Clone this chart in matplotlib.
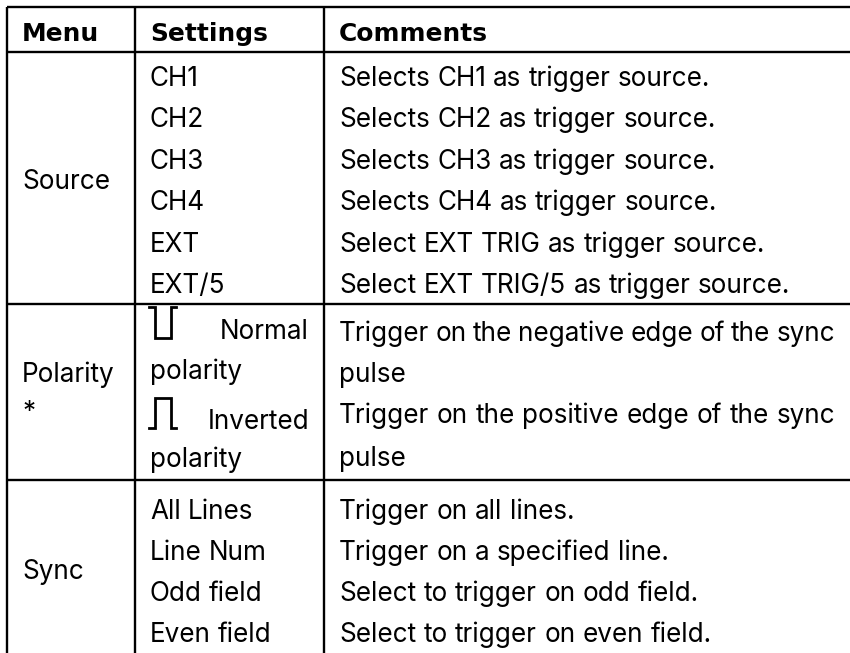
import matplotlib.pyplot as plt

plt.rcParams['font.family'] = ['Inter', 'DejaVu Sans']

headers = ['Menu', 'Settings', 'Comments']
menus = ['Source', 'Polarity', '*', 'Sync']
source_settings = ['CH1', 'CH2', 'CH3', 'CH4', 'EXT', 'EXT/5']
source_comments = ['Selects CH1 as trigger source.', 'Selects CH2 as trigger source.',
                   'Selects CH3 as trigger source.', 'Selects CH4 as trigger source.',
                   'Select EXT TRIG as trigger source.', 'Select EXT TRIG/5 as trigger source.']
polarity_settings = ['Normal', 'polarity', 'Inverted', 'polarity']
polarity_comments = ['Trigger on the negative edge of the sync', 'pulse',
                     'Trigger on the positive edge of the sync', 'pulse']
sync_settings = ['All Lines', 'Line Num', 'Odd field', 'Even field']
sync_comments = ['Trigger on all lines.', 'Trigger on a specified line.',
                 'Select to trigger on odd field.', 'Select to trigger on even field.']

fig = plt.figure(figsize=(8.5, 6.53), dpi=100)
ax = fig.add_axes([0, 0, 1, 1])
ax.set_xlim(0, 850)
ax.set_ylim(653, 0)
ax.axis('off')

fs = 18.8
lw = 1.7
gap = 7.3


def words(x, y, line, right=None):
    # one text per word so the wide word spacing of the cell can be kept
    parts = line.split(' ')
    items = [ax.text(x, y, p, fontsize=fs, va='baseline') for p in parts]
    fig.canvas.draw()
    widths = [t.get_window_extent().width for t in items]
    space = gap
    if right is not None and len(parts) > 1:
        space = (right - x - sum(widths)) / (len(parts) - 1)
    pos = x
    for t, w in zip(items, widths):
        t.set_x(pos)
        pos += w + space


for y in [7, 52, 304, 479.5]:
    ax.plot([7, 850], [y, y], color='black', lw=lw, solid_capstyle='butt')
for x in [7, 135, 324]:
    ax.plot([x, x], [7, 653], color='black', lw=lw, solid_capstyle='butt')

for x, h in zip([22, 150, 339], headers):
    ax.text(x, 41, h, fontsize=17.9, fontweight='bold', va='baseline', family='DejaVu Sans')

for i, (s, c) in enumerate(zip(source_settings, source_comments)):
    y = 86 + i * 41.4
    words(150, y, s)
    words(339, y, c)
ax.text(22, 189, menus[0], fontsize=fs, va='baseline')

ax.text(309, 339, polarity_settings[0], fontsize=fs, va='baseline', ha='right')
ax.text(150, 379, polarity_settings[1], fontsize=fs, va='baseline')
ax.text(309, 429, polarity_settings[2], fontsize=fs, va='baseline', ha='right')
ax.text(150, 467, polarity_settings[3], fontsize=fs, va='baseline')
words(339, 340.7, polarity_comments[0], right=835)
ax.text(339, 382, polarity_comments[1], fontsize=fs, va='baseline')
words(339, 423, polarity_comments[2], right=835)
ax.text(339, 466, polarity_comments[3], fontsize=fs, va='baseline')
ax.text(22, 381.7, menus[1], fontsize=fs, va='baseline')
ax.text(23, 420, menus[2], fontsize=fs, va='baseline')

# polarity glyphs
ax.plot([149, 155, 155, 171, 171, 176], [307, 307, 338, 338, 307, 307], color='black', lw=2, solid_joinstyle='miter')
ax.plot([149, 155, 155, 171, 171, 176], [428, 428, 398, 398, 428, 428], color='black', lw=2, solid_joinstyle='miter')

for i, (s, c) in enumerate(zip(sync_settings, sync_comments)):
    y = 518.7 + i * 41
    words(150, y, s)
    words(339, y, c)
ax.text(22, 579, menus[3], fontsize=fs, va='baseline')

fig.savefig('out.png', dpi=100)
